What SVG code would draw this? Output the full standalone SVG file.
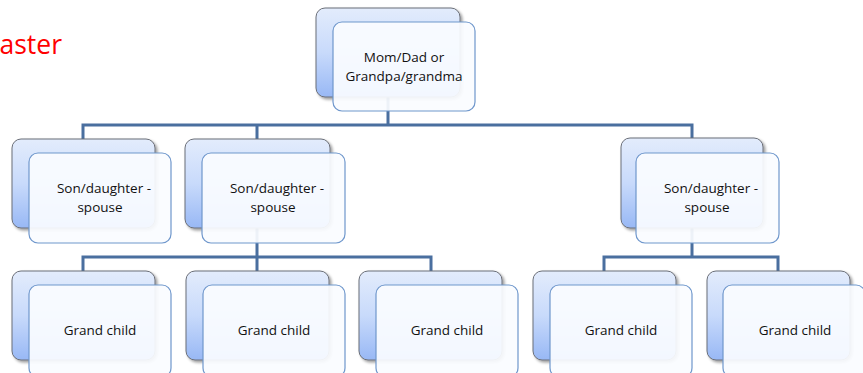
<svg xmlns="http://www.w3.org/2000/svg" width="863" height="373" viewBox="0 0 863 373">
<defs>
<linearGradient id="g" x1="0" y1="0" x2="0" y2="1">
<stop offset="0" stop-color="#e3ecfc"/>
<stop offset="0.5" stop-color="#c8dafb"/>
<stop offset="1" stop-color="#98b8f5"/>
</linearGradient>
<filter id="sh" x="-10%" y="-10%" width="130%" height="130%">
<feGaussianBlur in="SourceAlpha" stdDeviation="1.5"/>
<feOffset dx="1.5" dy="2" result="b"/>
<feComponentTransfer><feFuncA type="linear" slope="0.4"/></feComponentTransfer>
<feMerge><feMergeNode/><feMergeNode in="SourceGraphic"/></feMerge>
</filter>
</defs>
<style>
.back{fill:url(#g);stroke:#6b6f78;stroke-width:1;filter:url(#sh)}
.front{fill:#fafcff;fill-opacity:0.93;stroke:#6f97cc;stroke-width:1.2}
.t{font-family:"Open Sans","Liberation Sans",sans-serif;font-size:13.5px;fill:#111;text-anchor:middle}
.c{fill:none;stroke:#4a6f9f;stroke-width:3}
</style>
<rect width="863" height="373" fill="#fff"/>
<text x="62" y="54" font-family="Open Sans, Liberation Sans, sans-serif" font-size="26.5" fill="#ff0000" text-anchor="end">aster</text>
<g id="connectors">
<path class="c" d="M388 97V125M83 139V125H692V139M257 125V139"/>
<path class="c" d="M257 228V257M83 271V257H431V271M257 257V271"/>
<path class="c" d="M692 228V257M604 271V257H778V271"/>
</g>
<g id="n-top">
<rect class="back" x="316" y="8" width="144" height="89" rx="9"/>
<rect class="front" x="333" y="22" width="142" height="89" rx="9"/>
<text class="t" x="404" y="62">Mom/Dad or</text>
<text class="t" x="404" y="81">Grandpa/grandma</text>
</g>
<g id="n-s1">
<rect class="back" x="12" y="139" width="143" height="89" rx="9"/>
<rect class="front" x="29" y="153" width="142" height="90" rx="9"/>
<text class="t" x="104" y="193">Son/daughter -</text>
<text class="t" x="100" y="212">spouse</text>
</g>
<g id="n-s2">
<rect class="back" x="185" y="139" width="145" height="89" rx="9"/>
<rect class="front" x="202" y="153" width="143" height="90" rx="9"/>
<text class="t" x="277" y="193">Son/daughter -</text>
<text class="t" x="273" y="212">spouse</text>
</g>
<g id="n-s3">
<rect class="back" x="621" y="138" width="142" height="90" rx="9"/>
<rect class="front" x="636" y="153" width="143" height="90" rx="9"/>
<text class="t" x="711" y="193">Son/daughter -</text>
<text class="t" x="707" y="212">spouse</text>
</g>
<g id="n-g1">
<rect class="back" x="12" y="271" width="143" height="89" rx="9"/>
<rect class="front" x="29" y="285" width="142" height="92" rx="9"/>
<text class="t" x="100" y="335">Grand child</text>
</g>
<g id="n-g2">
<rect class="back" x="186" y="271" width="143" height="89" rx="9"/>
<rect class="front" x="203" y="285" width="142" height="92" rx="9"/>
<text class="t" x="274" y="335">Grand child</text>
</g>
<g id="n-g3">
<rect class="back" x="359" y="271" width="143" height="89" rx="9"/>
<rect class="front" x="376" y="285" width="142" height="92" rx="9"/>
<text class="t" x="447" y="335">Grand child</text>
</g>
<g id="n-g4">
<rect class="back" x="533" y="271" width="143" height="89" rx="9"/>
<rect class="front" x="550" y="285" width="142" height="92" rx="9"/>
<text class="t" x="621" y="335">Grand child</text>
</g>
<g id="n-g5">
<rect class="back" x="707" y="271" width="143" height="89" rx="9"/>
<rect class="front" x="723" y="285" width="142" height="92" rx="9"/>
<text class="t" x="795" y="335">Grand child</text>
</g>
</svg>
